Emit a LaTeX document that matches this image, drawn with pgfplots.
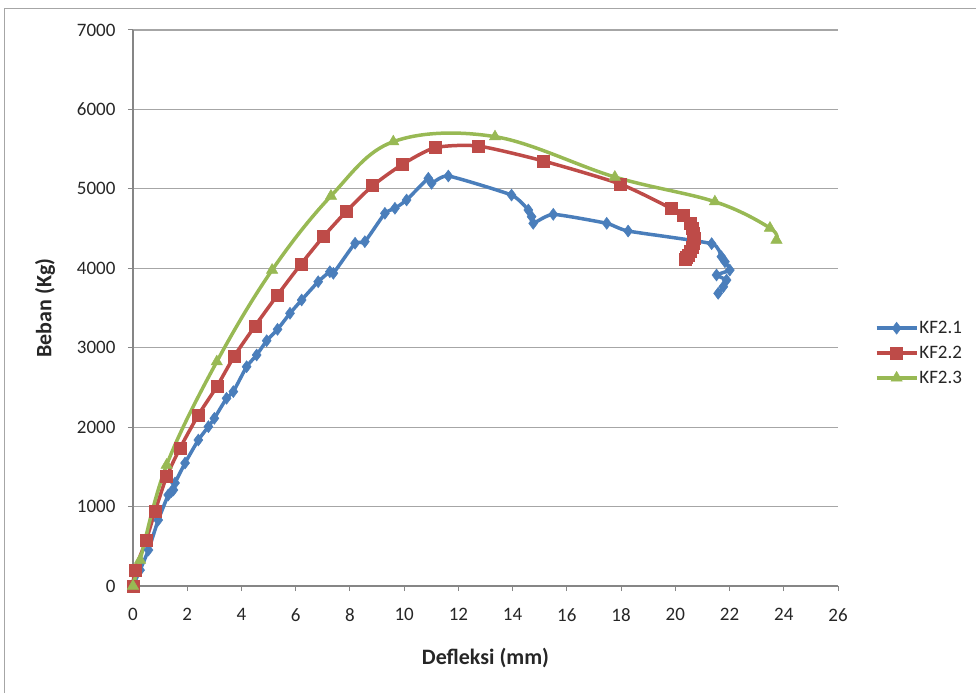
\documentclass[border=0pt]{standalone}
\usepackage{fontspec}
\setmainfont{Carlito}
\usepackage{pgfplots}
\pgfplotsset{compat=1.18}
\definecolor{cblue}{HTML}{4A7EBB}
\definecolor{cred}{HTML}{BE4B48}
\definecolor{cgreen}{HTML}{98B954}
\definecolor{gridc}{HTML}{A6A6A6}
\definecolor{axc}{HTML}{868686}
\begin{document}
\begin{tikzpicture}
\useasboundingbox (-133pt,-107pt) rectangle (843pt,586pt);
\draw[gray!70, line width=1pt] (-128pt,-107pt) -- (-128pt,577pt) -- (843pt,577pt);
\begin{axis}[
  at={(0pt,0pt)}, anchor=south west,
  scale only axis, width=705pt, height=556pt,
  xmin=0, xmax=26, ymin=0, ymax=7000,
  xtick={0,2,...,26}, ytick={0,1000,...,7000},
  axis x line=bottom, axis y line=left,
  axis line style={draw=axc, line width=1.2pt, -},
  tick align=outside, major tick length=5pt,
  tick style={draw=axc, line width=1pt},
  ymajorgrids, grid style={draw=gridc, line width=1.2pt},
  /pgf/number format/assume math mode=true,
  /pgf/number format/1000 sep={},
  tick label style={font=\fontsize{19}{22}\selectfont, text=black!85},
  xticklabel style={yshift=-14pt},
  yticklabel style={xshift=-9pt},
  xlabel={\bfseries Defleksi (mm)}, ylabel={\bfseries Beban (Kg)},
  label style={font=\fontsize{22}{26}\selectfont, text=black!85},
  xlabel style={at={(axis description cs:0.5,-0.1295)}, anchor=center},
  ylabel style={at={(axis description cs:-0.1248,0.5)}, anchor=center},
  legend style={draw=none, fill=none, at={(1.052,0.419)}, anchor=west,
    font=\fontsize{19}{22}\selectfont, row sep=9pt, inner sep=0pt,
    nodes={inner sep=1pt, text=black!85}},
  legend cell align=left,
  legend image code/.code={\draw[mark repeat=2,mark phase=2] plot coordinates {(0pt,0pt) (20pt,0pt) (40pt,0pt)};},
  clip=false,
]
\addplot[cblue, line width=3.5pt, smooth, tension=0.3, mark=diamond*, mark size=6pt, mark options={solid, line width=0.5pt}] coordinates {
(0,0) (0.26,200) (0.57,453) (0.93,830) (1.30,1146) (1.42,1190) (1.49,1209) (1.55,1297)
(1.92,1548) (2.41,1838) (2.78,2006) (3.00,2111) (3.45,2363) (3.70,2447) (4.19,2761)
(4.56,2908) (4.93,3088) (5.33,3231) (5.79,3433) (6.22,3601) (6.83,3831) (7.26,3957)
(7.39,3937) (8.19,4315) (8.55,4335) (9.29,4692) (9.66,4755) (10.09,4860) (10.89,5133)
(11.01,5070) (11.63,5162) (13.96,4922) (14.58,4734) (14.70,4650) (14.76,4566) (15.50,4679)
(17.47,4566) (18.26,4469) (21.34,4310) (21.70,4146) (21.83,4083) (22.01,3978) (21.52,3915)
(21.89,3852) (21.77,3768) (21.58,3685)
};
\addlegendentry{KF2.1}
\addplot[cred, line width=3.5pt, smooth, tension=0.4, mark=square*, mark size=6pt, mark options={solid, line width=0.5pt}] coordinates {
(0,0) (0.07,200) (0.48,571) (0.81,936) (1.24,1377) (1.73,1733) (2.41,2153) (3.09,2510)
(3.74,2896) (4.50,3273) (5.33,3664) (6.19,4050) (7.02,4398) (7.88,4721) (8.84,5040)
(9.94,5309) (11.14,5518) (12.73,5539) (15.13,5351) (17.96,5061) (19.84,4755) (20.29,4671)
(20.54,4566) (20.62,4500) (20.66,4440) (20.68,4380) (20.67,4320) (20.62,4260) (20.55,4210)
(20.47,4170) (20.40,4140) (20.36,4120)
};
\addlegendentry{KF2.2}
\addplot[cgreen, line width=3.5pt, smooth, tension=0.6, mark=triangle*, mark size=6.5pt, mark options={solid, line width=0.5pt}] coordinates {
(0,0) (0.26,327) (1.24,1523) (3.09,2824) (5.13,3978) (7.30,4910) (9.60,5594)
(13.35,5657) (17.77,5149) (21.46,4838) (23.49,4507) (23.73,4356)
};
\addlegendentry{KF2.3}
\end{axis}
\end{tikzpicture}
\end{document}
